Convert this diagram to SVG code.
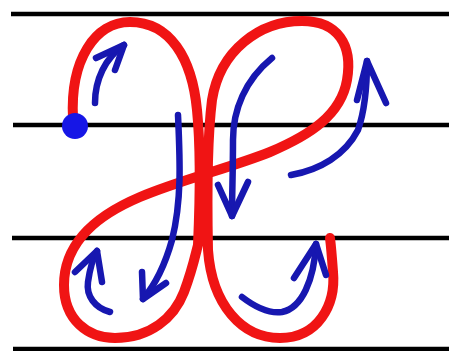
<svg xmlns="http://www.w3.org/2000/svg" width="449" height="351" viewBox="0 0 449 351">
<style>
.rule{stroke:#000;stroke-width:4.5;fill:none}
.red{stroke:#f01414;stroke-width:10;fill:none;stroke-linecap:round;stroke-linejoin:round}
.blue{stroke:#1717b0;stroke-width:6.5;fill:none;stroke-linecap:round;stroke-linejoin:round}
</style>
<rect width="449" height="351" fill="#fff"/>
<g id="rules">
<line class="rule" x1="11" y1="14" x2="449" y2="14"/>
<line class="rule" x1="13" y1="125" x2="449" y2="125"/>
<line class="rule" x1="12" y1="238" x2="449" y2="238"/>
<line class="rule" x1="13" y1="349" x2="449" y2="349"/>
</g>
<g id="letter">
<path class="red" d="M73,118 C70,60 95,22 130,22 C170,22 192,58 197,110 C201,150 200,200 198,245 C196,252 193,268 184,292 C174,318 150,338 115,338 C88,338 64,320 64,285 C64,240 100,214 140,197 C180,180 230,168 270,152 C310,135 341,115 347,80 C353,45 338,21 302,21 C260,21 220,50 212,100 C207,140 207,200 208,250 C212,305 242,338 280,338 C318,338 336,305 333,272 C332,258 331,246 330,238"/>
</g>
<g id="connectors">
<path class="blue" d="M95,103 C95,80 105,58 124,45"/>
<polyline class="blue" points="96,58 124,45 115,70"/>
<path class="blue" d="M178,115 C180,160 182,200 172,240 C165,265 155,285 143,299"/>
<polyline class="blue" points="142,272 143,299 166,283"/>
<path class="blue" d="M272,58 C245,80 233,110 233,140 C233,170 232,195 232,216"/>
<polyline class="blue" points="218,185 232,216 248,182"/>
<path class="blue" d="M291,175 C320,170 345,155 358,130 C365,110 367,85 367,61"/>
<polyline class="blue" points="357,100 367,61 386,103"/>
<path class="blue" d="M110,312 C95,308 86,296 88,282 C90,268 93,258 97,251"/>
<polyline class="blue" points="75,272 97,251 102,282"/>
<path class="blue" d="M242,297 C255,307 268,314 282,312 C302,308 314,280 316,244"/>
<polyline class="blue" points="294,278 316,244 326,275"/>
</g>
<g id="start-dot">
<circle cx="75" cy="126" r="13" fill="#1616e6"/>
</g>
</svg>
